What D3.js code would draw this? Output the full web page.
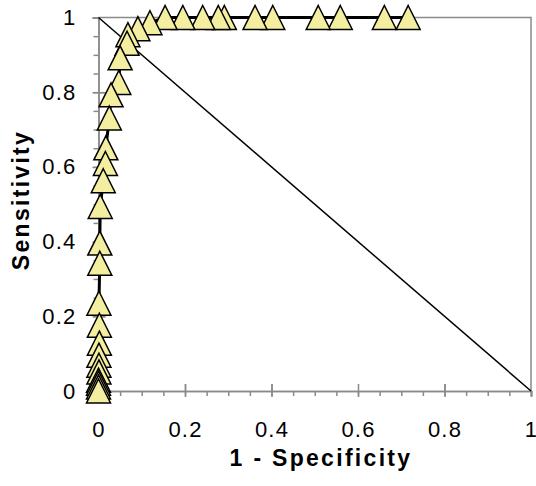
<!DOCTYPE html>
<html>
<head>
<meta charset="utf-8">
<script src="https://cdn.jsdelivr.net/npm/d3@7"></script>
<style>
	body { margin: 0; background: #fff; }
	text { font-family: "Liberation Sans", Arial, sans-serif; fill: #000; }
</style>
</head>
<body>
<script>
// ROC points, drawn from the top-right end down to the origin
const fpr = [0.716, 0.661, 0.559, 0.508, 0.403, 0.362, 0.291, 0.277, 0.241, 0.195, 0.154,
	0.119, 0.091, 0.068, 0.066, 0.050, 0.047, 0.029, 0.025, 0.017, 0.016, 0.011, 0.004,
	0.003, 0.003, 0.001, 0.002, 0.002, 0.001, 0.001, 0.001, 0, 0, 0, 0];
const tpr = [1, 1, 1, 1, 1, 1, 1, 1, 1, 1, 1,
	0.986, 0.970, 0.954, 0.931, 0.892, 0.826, 0.793, 0.731, 0.651, 0.609, 0.563, 0.494,
	0.396, 0.342, 0.235, 0.176, 0.128, 0.096, 0.069, 0.051, 0.029, 0.021, 0.011, 0];
const majorTicks = [0, 0.2, 0.4, 0.6, 0.8, 1];
const tickLabels = ['0', '0.2', '0.4', '0.6', '0.8', '1'];
const minorTicks = d3.range(0, 1.0001, 0.05);
const diagonal = [[0, 1], [1, 0]];

document.addEventListener('DOMContentLoaded', () => {
	let width = 536, height = 486;
	let left = 98.5, right = 531, top = 17.5, bottom = 391;

	let svg = d3.select('body').append('svg')
		.attr('width', width)
		.attr('height', height);

	let x = d3.scaleLinear().domain([0, 1]).range([left, right]);
	let y = d3.scaleLinear().domain([0, 1]).range([bottom, top]);

	let points = fpr.map((f, i) => ({ x: f, y: tpr[i] }));

	// frame (top and right)
	svg.append('path')
		.attr('d', `M${left},${top}H${right}V${bottom}`)
		.attr('fill', 'none')
		.attr('stroke', '#8a8a8a')
		.attr('stroke-width', 1.5);

	// minor ticks
	let xMinor = d3.axisBottom(x).tickValues(minorTicks).tickSize(5).tickFormat('');
	let yMinor = d3.axisLeft(y).tickValues(minorTicks).tickSize(5).tickFormat('');
	// major ticks with labels
	let xAxis = d3.axisBottom(x).tickValues(majorTicks).tickSize(6)
		.tickFormat((d, i) => tickLabels[i]).tickPadding(24);
	let yAxis = d3.axisLeft(y).tickValues(majorTicks).tickSize(6)
		.tickFormat((d, i) => tickLabels[i]).tickPadding(16);

	for (let ax of [xMinor, xAxis]) {
		svg.append('g')
			.attr('transform', `translate(0,${bottom})`)
			.call(ax);
	}
	for (let ax of [yMinor, yAxis]) {
		svg.append('g')
			.attr('transform', `translate(${left},0)`)
			.call(ax);
	}

	svg.selectAll('.domain, .tick line')
		.attr('stroke', '#8a8a8a')
		.attr('stroke-width', 1.5);
	svg.selectAll('.tick text')
		.attr('font-family', '"Liberation Sans", Arial, sans-serif')
		.attr('font-size', 22)
		.attr('letter-spacing', 1.2)
		.attr('fill', '#000');

	// major ticks cross the axis
	svg.selectAll('.tick line')
		.filter(d => majorTicks.includes(d) && d > 0 && d < 1)
		.each(function () {
			let l = d3.select(this);
			if (l.attr('y2')) l.attr('y1', -7);
			if (l.attr('x2')) l.attr('x1', 7);
		});

	// chance line
	svg.append('line')
		.attr('x1', x(diagonal[0][0])).attr('y1', y(diagonal[0][1]))
		.attr('x2', x(diagonal[1][0])).attr('y2', y(diagonal[1][1]))
		.attr('stroke', '#000')
		.attr('stroke-width', 1.5);

	// ROC curve
	svg.append('path')
		.datum(points)
		.attr('d', d3.line().x(d => x(d.x)).y(d => y(d.y)))
		.attr('fill', 'none')
		.attr('stroke', '#000')
		.attr('stroke-width', 3);

	let w = 24, h = 24;
	svg.append('g').selectAll('path')
		.data(points)
		.enter().append('path')
		.attr('d', `M0,${-h / 2}L${w / 2},${h / 2}L${-w / 2},${h / 2}Z`)
		.attr('transform', d => `translate(${x(d.x)},${y(d.y)})`)
		.attr('fill', '#f3eea0')
		.attr('stroke', '#000')
		.attr('stroke-width', 1.5)
		.attr('stroke-linejoin', 'miter');

	// axis titles
	svg.append('text')
		.attr('x', 321)
		.attr('y', 466)
		.attr('text-anchor', 'middle')
		.attr('font-size', 23)
		.attr('font-weight', 'bold')
		.attr('letter-spacing', 2.3)
		.text('1 - Specificity');

	svg.append('text')
		.attr('transform', 'translate(29,200) rotate(-90)')
		.attr('text-anchor', 'middle')
		.attr('font-size', 23)
		.attr('font-weight', 'bold')
		.attr('letter-spacing', 2.3)
		.text('Sensitivity');
});
</script>
</body>
</html>
